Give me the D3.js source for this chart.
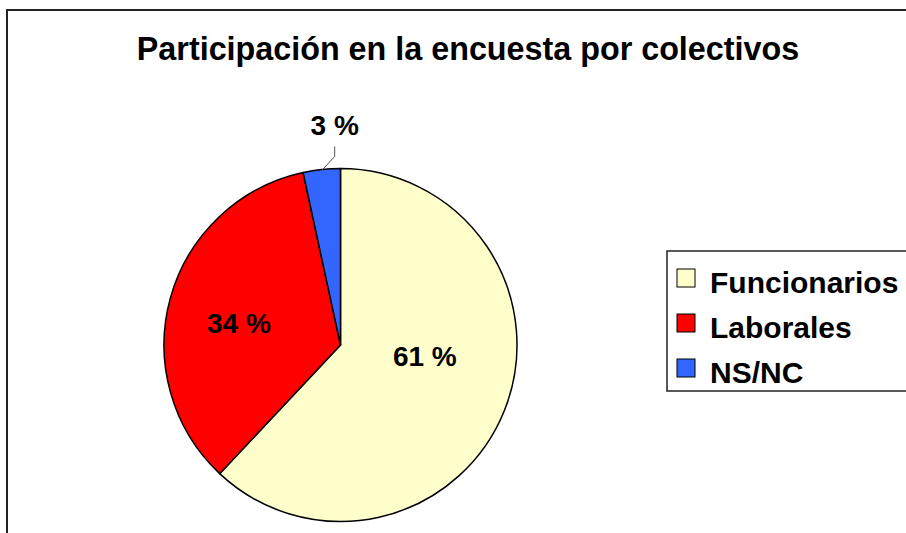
<!DOCTYPE html>
<html>
<head>
<meta charset="utf-8">
<script src="https://cdn.jsdelivr.net/npm/d3@7"></script>
<style>
  body { margin: 0; background: #fff; }
  svg { display: block; font-family: "Liberation Sans", Arial, sans-serif; font-weight: bold; }
</style>
</head>
<body>
<svg id="chart" width="906" height="533"></svg>
<script>
// data
var categories = ["Funcionarios", "Laborales", "NS/NC"];
var values = [62.0, 34.6, 3.4];
var labels = ["61 %", "34 %", "3 %"];
var colors = ["#FFFFCC", "#FF0000", "#3366FF"];

var svg = d3.select("#chart");

// outer frame (runs off the right and bottom edges)
svg.append("path")
  .attr("d", "M7,540 V10 H915")
  .attr("fill", "none")
  .attr("stroke", "#222")
  .attr("stroke-width", 2);

svg.append("text")
  .attr("x", 468)
  .attr("y", 60)
  .attr("text-anchor", "middle")
  .attr("font-size", 32.3)
  .text("Participación en la encuesta por colectivos");

var cx = 340.5, cy = 345, R = 176.5;

var pie = d3.pie().sort(null).value(function(d) { return d; });
var arcs = pie(values);

var arc = d3.arc().innerRadius(0).outerRadius(R);
var labelArc = d3.arc().innerRadius(95).outerRadius(95);
var edgeArc = d3.arc().innerRadius(R).outerRadius(R);

// excel pulls the inside labels a bit toward the middle of the pie
var nudge = [[-4, -24], [-10, 4]];

var g = svg.append("g").attr("transform", "translate(" + cx + "," + cy + ")");

g.selectAll("path.slice")
  .data(arcs)
  .enter().append("path")
  .attr("class", "slice")
  .attr("d", arc)
  .attr("fill", function(d, i) { return colors[i]; })
  .attr("stroke", "#000")
  .attr("stroke-width", 1.5)
  .attr("stroke-linejoin", "round");

// labels: the tiny slice gets its label outside with a leader line
arcs.forEach(function(d, i) {
  var small = (d.endAngle - d.startAngle) < 0.3;
  if (!small) {
    var c = labelArc.centroid(d);
    g.append("text")
      .attr("x", c[0] + nudge[i][0])
      .attr("y", c[1] + nudge[i][1])
      .attr("text-anchor", "middle")
      .attr("dy", "0.35em")
      .attr("font-size", 28)
      .text(labels[i]);
  } else {
    var p0 = edgeArc.centroid(d);
    p0[1] += 1;
    var knee = [p0[0] + 13, p0[1] - 14];
    var top = [knee[0], knee[1] - 10];
    g.append("path")
      .attr("d", "M" + p0 + " L" + knee + " L" + top)
      .attr("fill", "none")
      .attr("stroke", "#555")
      .attr("stroke-width", 1);
    g.append("text")
      .attr("x", top[0])
      .attr("y", top[1] - 12)
      .attr("text-anchor", "middle")
      .attr("font-size", 28)
      .text(labels[i]);
  }
});

// legend
var legend = svg.append("g").attr("transform", "translate(667,251)");
legend.append("rect")
  .attr("x", 0).attr("y", 0)
  .attr("width", 260).attr("height", 140)
  .attr("fill", "#fff")
  .attr("stroke", "#222")
  .attr("stroke-width", 1.5);

var item = legend.selectAll("g.item")
  .data(categories)
  .enter().append("g")
  .attr("class", "item")
  .attr("transform", function(d, i) { return "translate(0," + (i * 45) + ")"; });

item.append("rect")
  .attr("x", 10).attr("y", 18)
  .attr("width", 18).attr("height", 18)
  .attr("fill", function(d, i) { return colors[i]; })
  .attr("stroke", "#000")
  .attr("stroke-width", 1);

item.append("text")
  .attr("x", 43)
  .attr("y", 42)
  .attr("font-size", 30)
  .text(function(d) { return d; });
</script>
</body>
</html>
